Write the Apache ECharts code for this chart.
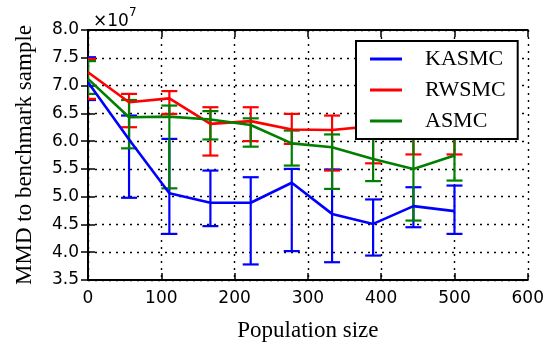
<!DOCTYPE html>
<html>
<head>
<meta charset="utf-8">
<script src="https://cdn.jsdelivr.net/npm/echarts@6/dist/echarts.min.js"></script>
<style>
  html, body { margin: 0; padding: 0; background: #fff; }
  #chart { width: 547px; height: 349px; }
</style>
</head>
<body>
<div id="chart"></div>
<script>
// population sizes
const popSize = [0, 56, 111, 167, 222, 278, 333, 389, 444, 500];

// MMD values, in units of 1e7
const kasmcMean = [7.06, 6.03, 5.06, 4.89, 4.89, 5.25, 4.69, 4.51, 4.83, 4.74];
const kasmcLow  = [6.74, 4.98, 4.33, 4.47, 3.78, 4.02, 3.82, 3.94, 4.45, 4.33];
const kasmcHigh = [7.51, 6.46, 6.04, 5.47, 5.35, 5.50, 5.49, 4.95, 5.17, 5.20];

const rwsmcMean = [7.24, 6.70, 6.77, 6.31, 6.36, 6.21, 6.20, 6.27, 6.32, 6.32];
const rwsmcLow  = [6.76, 6.25, 6.49, 5.74, 6.00, 5.95, 5.47, 5.60, 5.76, 5.76];
const rwsmcHigh = [7.48, 6.85, 6.90, 6.61, 6.61, 6.49, 6.46, 6.62, 6.70, 6.72];

const asmcMean = [7.12, 6.43, 6.44, 6.39, 6.29, 5.96, 5.89, 5.68, 5.50, 5.74];
const asmcLow  = [6.85, 5.87, 5.15, 6.03, 5.90, 5.56, 5.14, 5.28, 4.57, 5.29];
const asmcHigh = [7.44, 6.74, 6.64, 6.54, 6.41, 6.19, 6.12, 6.08, 6.43, 6.19];

const colors = { KASMC: '#0000ff', RWSMC: '#ff0000', ASMC: '#008000' };

const chart = echarts.init(document.getElementById('chart'));

function errorBars(name, lo, hi) {
  return {
    type: 'custom',
    name: name + ' err',
    xAxisIndex: 0,
    yAxisIndex: 0,
    clip: true,
    data: popSize.map((x, i) => [x, lo[i], hi[i]]),
    renderItem: function (params, api) {
      const x = api.value(0);
      const a = api.coord([x, api.value(1)]);
      const b = api.coord([x, api.value(2)]);
      const hw = 8;
      // caps are cut at the plot edge, like the original
      const left = Math.max(a[0] - hw, params.coordSys.x);
      const right = Math.min(a[0] + hw, params.coordSys.x + params.coordSys.width);
      const st = { stroke: colors[name], lineWidth: 2.2 };
      return {
        type: 'group',
        children: [
          { type: 'line', shape: { x1: a[0], y1: a[1], x2: b[0], y2: b[1] }, style: st },
          { type: 'line', shape: { x1: left, y1: a[1], x2: right, y2: a[1] }, style: st },
          { type: 'line', shape: { x1: left, y1: b[1], x2: right, y2: b[1] }, style: st }
        ]
      };
    },
    silent: true,
    animation: false
  };
}

function meanLine(name, vals) {
  return {
    type: 'line',
    name: name,
    xAxisIndex: 0,
    yAxisIndex: 0,
    data: popSize.map((x, i) => [x, vals[i]]),
    showSymbol: false,
    lineStyle: { color: colors[name], width: 2.6 },
    itemStyle: { color: colors[name] },
    animation: false
  };
}

const axisLineStyle = { show: true, lineStyle: { color: '#000', width: 2 } };
const tickStyle = { show: true, inside: true, length: 7, lineStyle: { color: '#000', width: 1.5 } };
const labelFont = { color: '#000', fontFamily: 'DejaVu Sans', fontSize: 17 };
const nameFont = { color: '#000', fontFamily: 'Liberation Serif', fontSize: 23 };

chart.setOption({
  backgroundColor: '#fff',
  title: {
    text: '{a|×10}{b|7}',
    left: 88,
    top: 2,
    textStyle: {
      fontWeight: 'normal',
      rich: {
        a: { fontFamily: 'DejaVu Sans', fontSize: 17, fontWeight: 'normal', color: '#000', padding: [6, 0, 0, 0] },
        b: { fontFamily: 'DejaVu Sans', fontSize: 12, fontWeight: 'normal', color: '#000', verticalAlign: 'top' }
      }
    }
  },
  grid: { left: 88, right: 17, top: 30, bottom: 69 },
  legend: {
    data: ['KASMC', 'RWSMC', 'ASMC'],
    orient: 'vertical',
    left: 356,
    top: 41,
    icon: 'rect',
    itemWidth: 32,
    itemHeight: 3,
    itemGap: 9,
    padding: [7, 12, 7, 14],
    backgroundColor: '#fff',
    borderColor: '#000',
    borderWidth: 2,
    textStyle: { color: '#000', fontFamily: 'Liberation Serif', fontSize: 22, padding: [0, 0, 0, 18] }
  },
  xAxis: [
    {
      type: 'value', min: 0, max: 600, interval: 100, position: 'bottom',
      name: 'Population size', nameLocation: 'middle', nameGap: 39, nameTextStyle: nameFont,
      axisLine: axisLineStyle, axisTick: tickStyle,
      axisLabel: Object.assign({ margin: 10 }, labelFont),
      splitLine: { show: true, lineStyle: { color: '#000', width: 1.4, type: [2, 5] } }
    },
    {
      type: 'value', min: 0, max: 600, interval: 100, position: 'top',
      axisLine: axisLineStyle, axisTick: tickStyle,
      axisLabel: { show: false }, splitLine: { show: false }
    }
  ],
  yAxis: [
    {
      type: 'value', min: 3.5, max: 8.0, interval: 0.5, position: 'left',
      name: 'MMD to benchmark sample', nameLocation: 'middle', nameGap: 52, nameTextStyle: nameFont,
      axisLine: axisLineStyle, axisTick: tickStyle,
      axisLabel: Object.assign({ margin: 9, formatter: v => v.toFixed(1) }, labelFont),
      splitLine: { show: true, lineStyle: { color: '#000', width: 1.4, type: [2, 5] } }
    },
    {
      type: 'value', min: 3.5, max: 8.0, interval: 0.5, position: 'right',
      axisLine: axisLineStyle, axisTick: tickStyle,
      axisLabel: { show: false }, splitLine: { show: false }
    }
  ],
  series: [
    errorBars('KASMC', kasmcLow, kasmcHigh),
    meanLine('KASMC', kasmcMean),
    errorBars('RWSMC', rwsmcLow, rwsmcHigh),
    meanLine('RWSMC', rwsmcMean),
    errorBars('ASMC', asmcLow, asmcHigh),
    meanLine('ASMC', asmcMean)
  ]
});
</script>
</body>
</html>
